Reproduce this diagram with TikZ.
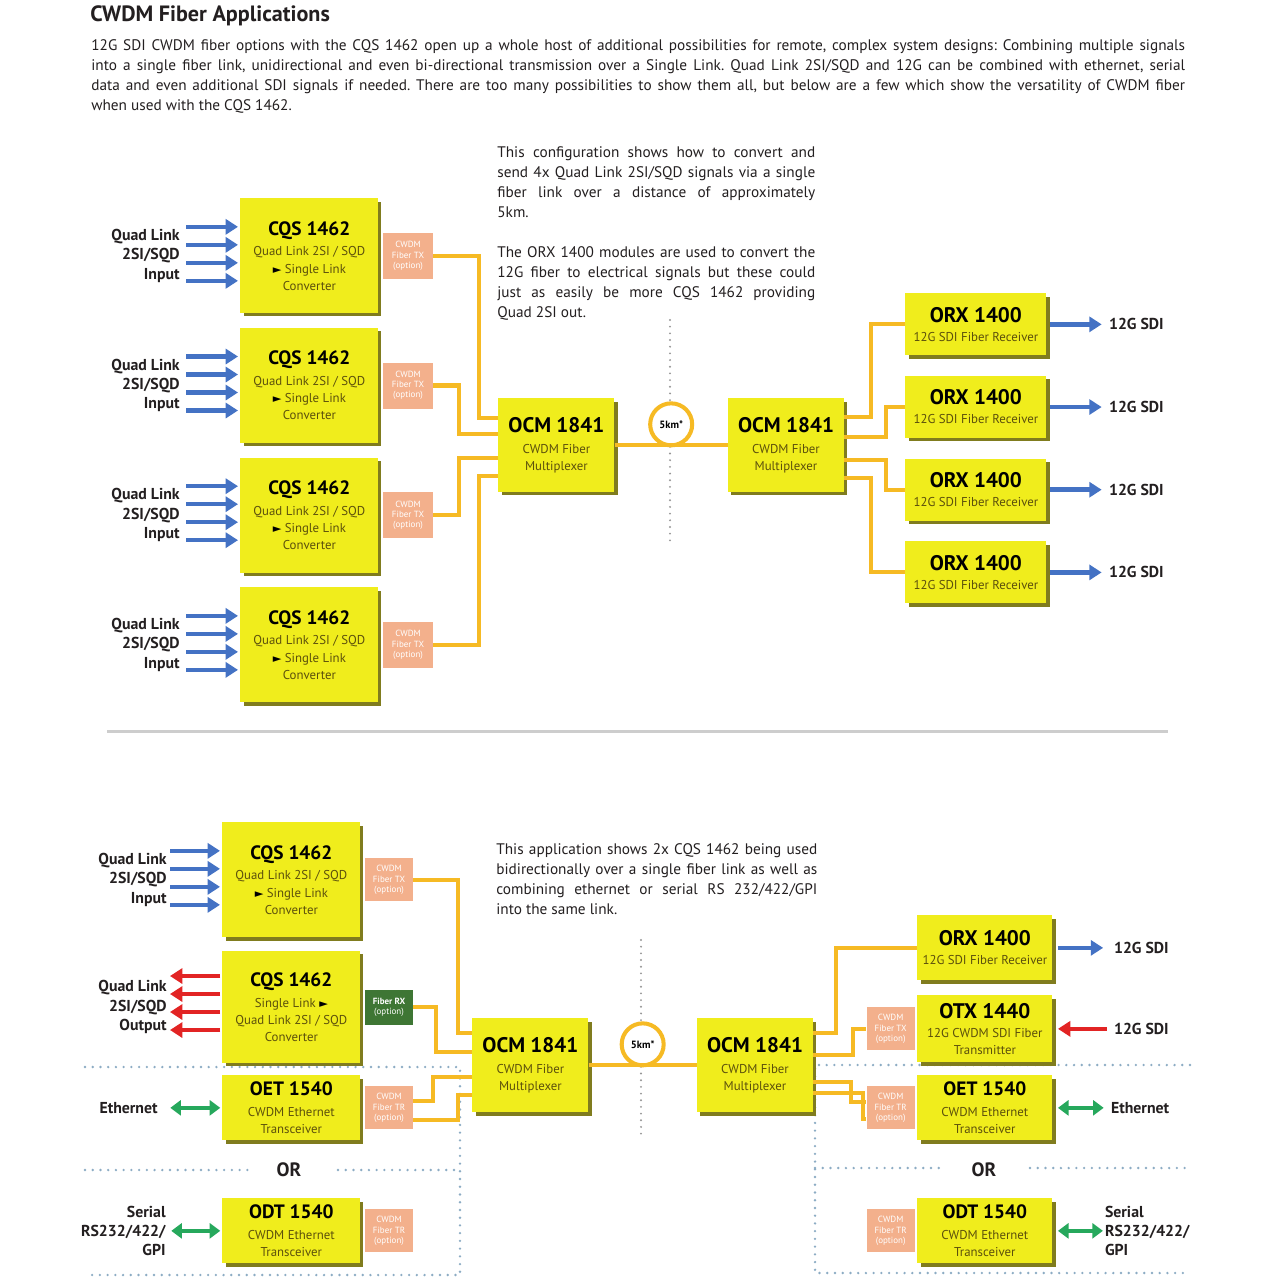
\documentclass[tikz,border=0pt]{standalone}
\usepackage{fontspec}
\setmainfont{PT Sans}
\newfontfamily\cwsymfont{DejaVu Sans}
\usepackage{xcolor}
\usetikzlibrary{arrows.meta,calc,positioning,shadows}
\frenchspacing
\definecolor{cwink}{RGB}{35,31,32}
\definecolor{cwyellow}{RGB}{240,237,28}
\definecolor{cwshade}{RGB}{128,124,30}
\definecolor{cwolive}{RGB}{92,80,12}
\definecolor{cwsalmon}{RGB}{243,176,140}
\definecolor{cwrxgreen}{RGB}{62,118,52}
\definecolor{cwfiber}{RGB}{246,186,36}
\definecolor{cwblue}{RGB}{68,114,196}
\definecolor{cwred}{RGB}{226,36,36}
\definecolor{cwgreen}{RGB}{38,168,92}
\definecolor{cwgrid}{RGB}{140,172,196}
\definecolor{cwgrey}{RGB}{150,150,150}
\definecolor{cwrule}{RGB}{205,205,205}
\newcommand{\cwbody}{\fontsize{8.7}{11.4}\selectfont}
\newcommand{\cwtitlefont}{\fontsize{12.6}{14}\selectfont\bfseries}
\newcommand{\cwsubfont}{\fontsize{7.3}{9.8}\selectfont}
\newcommand{\cwtinyfont}{\fontsize{5.1}{5.8}\selectfont}
\newcommand{\cwlblfont}{\fontsize{9}{11}\selectfont\bfseries}
\newcommand{\cwname}[2][11]{{\color{black}\fontsize{#1}{#1}\selectfont\bfseries #2}}
\newcommand{\cwplay}{{\cwsymfont\fontsize{6.4}{6.4}\selectfont\color{black}►}}
\tikzset{
  cwtext/.style={inner sep=0pt, text=cwink},
  cwunit/.style={fill=cwyellow, general shadow={fill=cwshade, shadow xshift=1.8pt, shadow yshift=-1.8pt}, align=center, text=cwolive, font=\cwsubfont, inner sep=2pt},
  cwcqs/.style={cwunit, minimum width=2.76cm, minimum height=2.3cm},
  cwmux/.style={cwunit, minimum width=2.32cm, minimum height=1.88cm},
  cwrecv/.style={cwunit, minimum width=2.82cm, minimum height=1.24cm},
  cwport/.style={cwunit, minimum width=2.76cm, minimum height=1.3cm},
  cwportr/.style={cwunit, minimum width=2.7cm, minimum height=1.3cm},
  cwtx/.style={fill=cwsalmon, text=white, align=center, font=\cwtinyfont, inner sep=1pt, minimum width=1.0cm, minimum height=.92cm},
  cwtxs/.style={cwtx, minimum width=.96cm, minimum height=.86cm},
  cwrx/.style={cwtx, fill=cwrxgreen, minimum width=.96cm, minimum height=.7cm},
  cwlbl/.style={cwtext, font=\cwlblfont},
  cwloop/.style={circle, draw=cwfiber, line width=2.3pt, fill=white, minimum size=.84cm, inner sep=0pt, font=\fontsize{6}{6}\selectfont\bfseries},
  cwfib/.style={draw=cwfiber, line width=2.3pt},
  cwin/.style={-{Triangle[length=7pt,width=8.5pt]}, line width=2.6pt, draw=cwblue},
  cwout/.style={cwin, draw=cwred},
  cwbi/.style={{Triangle[length=6pt,width=8.5pt]}-{Triangle[length=6pt,width=8.5pt]}, line width=2.6pt, draw=cwgreen},
  cwdots/.style={draw=cwgrid, line width=1.5pt, line cap=round, dash pattern=on 0pt off 4.4pt},
  cwmid/.style={cwdots, draw=cwgrey, line width=1.2pt, dash pattern=on 0pt off 3.8pt}
}

\begin{document}
\begin{tikzpicture}[x=0.02cm, y=-0.02cm, font=\cwbody, node distance=.28cm and .08cm]
  \fill[white] (0,0) rectangle (1280,1280);
  \node[cwtext, anchor=west, font=\cwtitlefont] (title) at (90,16) {CWDM Fiber Applications};
  \node[cwtext, anchor=north west, text width=21.88cm, align=justify] (intro) at (91,39) {12G SDI CWDM fiber options with the CQS 1462 open up a whole host of additional possibilities for remote, complex system designs: Combining multiple signals\linebreak into a single fiber link, unidirectional and even bi-directional transmission over a Single Link. Quad Link 2SI/SQD and 12G can be combined with ethernet, serial\linebreak data and even additional SDI signals if needed. There are too many possibilities to show them all, but below are a few which show the versatility of CWDM fiber\linebreak when used with the CQS 1462.};

  \node[cwtext, anchor=north west, text width=6.36cm, align=justify] (noteA) at (497,146) {This configuration shows how to convert and\linebreak send 4x Quad Link 2SI/SQD signals via a single\linebreak fiber link over a distance of approximately\linebreak 5km.};
  \node[cwtext, anchor=north west, text width=6.36cm, align=justify] (noteB) at (497,246) {The ORX 1400 modules are used to convert the\linebreak 12G fiber to electrical signals but these could\linebreak just as easily be more CQS 1462 providing\linebreak Quad 2SI out.};

  \node[cwcqs, anchor=north west] (cqsA) at (240,198) {\cwname{CQS 1462}\\[2pt]Quad Link 2SI / SQD\\\cwplay\ Single Link\\Converter};
  \node[cwcqs, below=of cqsA] (cqsB) {\cwname{CQS 1462}\\[2pt]Quad Link 2SI / SQD\\\cwplay\ Single Link\\Converter};
  \node[cwcqs, below=of cqsB] (cqsC) {\cwname{CQS 1462}\\[2pt]Quad Link 2SI / SQD\\\cwplay\ Single Link\\Converter};
  \node[cwcqs, below=of cqsC] (cqsD) {\cwname{CQS 1462}\\[2pt]Quad Link 2SI / SQD\\\cwplay\ Single Link\\Converter};
  \node[cwtx, right=of cqsA] (txA) {CWDM\\Fiber TX\\(option)};
  \node[cwtx, right=of cqsB] (txB) {CWDM\\Fiber TX\\(option)};
  \node[cwtx, right=of cqsC] (txC) {CWDM\\Fiber TX\\(option)};
  \node[cwtx, right=of cqsD] (txD) {CWDM\\Fiber TX\\(option)};
  \node[cwlbl, align=right, left=1.2cm of cqsA] (inA) {Quad Link\\2SI/SQD\\Input};
  \node[cwlbl, align=right, left=1.2cm of cqsB] (inB) {Quad Link\\2SI/SQD\\Input};
  \node[cwlbl, align=right, left=1.2cm of cqsC] (inC) {Quad Link\\2SI/SQD\\Input};
  \node[cwlbl, align=right, left=1.2cm of cqsD] (inD) {Quad Link\\2SI/SQD\\Input};
  \foreach \u in {cqsA,cqsB,cqsC,cqsD}
    \foreach \dy in {-29,-11,7,25}
      \draw[cwin] ($(\u.west)+(-54,\dy)$) -- ++(52,0);

  \draw[cwmid] (670,320) -- (670,545);
  \node[cwmux, anchor=north west] (ocmL) at (498,398) {\cwname[12]{OCM 1841}\\[2pt]CWDM Fiber\\Multiplexer};
  \node[cwmux, right=2.26cm of ocmL] (ocmR) {\cwname[12]{OCM 1841}\\[2pt]CWDM Fiber\\Multiplexer};
  \node[cwloop] (loopA) at ($(ocmL.east)!.5!(ocmR.west)+(0,-21)$) {5km*};
  \draw[cwfib] (ocmL.east) -- (ocmR.west);
  \draw[cwfib] (txA.east) -- ++(46,0) |- ($(ocmL.west)+(0,-27)$);
  \draw[cwfib] (txB.east) -- ++(26,0) |- ($(ocmL.west)+(0,-11)$);
  \draw[cwfib] (txC.east) -- ++(26,0) |- ($(ocmL.west)+(0,13)$);
  \draw[cwfib] (txD.east) -- ++(46,0) |- ($(ocmL.west)+(0,31)$);

  \node[cwrecv, anchor=north west] (orxA) at (905,293) {\cwname[12]{ORX 1400}\\[1pt]12G SDI Fiber Receiver};
  \node[cwrecv, below=.4cm of orxA] (orxB) {\cwname[12]{ORX 1400}\\[1pt]12G SDI Fiber Receiver};
  \node[cwrecv, below=.4cm of orxB] (orxC) {\cwname[12]{ORX 1400}\\[1pt]12G SDI Fiber Receiver};
  \node[cwrecv, below=.4cm of orxC] (orxD) {\cwname[12]{ORX 1400}\\[1pt]12G SDI Fiber Receiver};
  \draw[cwfib] ($(ocmR.east)+(0,-28)$) -- ++(27,0) |- (orxA.west);
  \draw[cwfib] ($(ocmR.east)+(0,-8)$) -- ++(42,0) |- (orxB.west);
  \draw[cwfib] ($(ocmR.east)+(0,15)$) -- ++(42,0) |- (orxC.west);
  \draw[cwfib] ($(ocmR.east)+(0,33)$) -- ++(27,0) |- (orxD.west);
  \node[cwlbl, right=1.24cm of orxA] (sdiA) {12G SDI};
  \node[cwlbl, right=1.24cm of orxB] (sdiB) {12G SDI};
  \node[cwlbl, right=1.24cm of orxC] (sdiC) {12G SDI};
  \node[cwlbl, right=1.24cm of orxD] (sdiD) {12G SDI};
  \draw[cwin, shorten <=2pt, shorten >=4pt] (orxA.east) -- (sdiA.west);
  \draw[cwin, shorten <=2pt, shorten >=4pt] (orxB.east) -- (sdiB.west);
  \draw[cwin, shorten <=2pt, shorten >=4pt] (orxC.east) -- (sdiC.west);
  \draw[cwin, shorten <=2pt, shorten >=4pt] (orxD.east) -- (sdiD.west);

  \draw[cwrule, line width=1.7pt] (107,731) -- (1168,731);

  \node[cwtext, anchor=north west, text width=6.42cm, align=justify] (noteC) at (496,843) {This application shows 2x CQS 1462 being used\linebreak bidirectionally over a single fiber link as well as\linebreak combining ethernet or serial RS 232/422/GPI\linebreak into the same link.};

  \draw[cwdots] (85,1067) -- (460,1067) -- (460,1275) -- (85,1275);
  \draw[cwdots] (85,1170) -- (255,1170);
  \draw[cwdots] (338,1170) -- (460,1170);
  \draw[cwdots] (1190,1065) -- (815,1065) -- (815,1273) -- (1190,1273);
  \draw[cwdots] (815,1168) -- (940,1168);
  \draw[cwdots] (1030,1168) -- (1190,1168);
  \node[cwtext, font=\fontsize{11}{11}\selectfont\bfseries] (orL) at (289,1170) {OR};
  \node[cwtext, font=\fontsize{11}{11}\selectfont\bfseries] (orR) at (984,1170) {OR};

  \node[cwcqs, anchor=north west] (cqsE) at (222,822) {\cwname{CQS 1462}\\[2pt]Quad Link 2SI / SQD\\\cwplay\ Single Link\\Converter};
  \node[cwcqs, below=.26cm of cqsE, minimum height=2.24cm] (cqsF) {\cwname{CQS 1462}\\[2pt]Single Link \cwplay\\Quad Link 2SI / SQD\\Converter};
  \node[cwtxs, right=of cqsE] (txE) {CWDM\\Fiber TX\\(option)};
  \node[cwrx, right=of cqsF] (rxF) {\bfseries Fiber RX\\(option)};
  \node[cwlbl, align=right, left=1.1cm of cqsE] (inE) {Quad Link\\2SI/SQD\\Input};
  \node[cwlbl, align=right, left=1.1cm of cqsF] (outF) {Quad Link\\2SI/SQD\\Output};
  \foreach \dy in {-29,-11,7,25}
    \draw[cwin] ($(cqsE.west)+(-52,\dy)$) -- ++(50,0);
  \foreach \dy in {-31,-13,5,23}
    \draw[cwout] ($(cqsF.west)+(-2,\dy)$) -- ++(-50,0);

  \node[cwport, anchor=north west] (oetL) at (222,1075) {\cwname{OET 1540}\\[2pt]CWDM Ethernet\\Transceiver};
  \node[cwtxs, right=of oetL] (txG) {CWDM\\Fiber TR\\(option)};
  \node[cwlbl, left=1.28cm of oetL] (ethL) {Ethernet};
  \draw[cwbi, shorten <=7pt, shorten >=1pt] (ethL.east) -- (oetL.west);
  \node[cwport, anchor=north west] (odtL) at (222,1198) {\cwname{ODT 1540}\\[2pt]CWDM Ethernet\\Transceiver};
  \node[cwtxs, right=of odtL] (txH) {CWDM\\Fiber TR\\(option)};
  \node[cwlbl, align=right, left=1.12cm of odtL] (serL) {Serial\\RS232/422/\\GPI};
  \draw[cwbi, shorten <=3pt, shorten >=1pt] (serL.east |- odtL.west) -- (odtL.west);

  \draw[cwmid] (641,940) -- (641,1140);
  \node[cwmux, anchor=north west] (ocmBL) at (472,1018) {\cwname[12]{OCM 1841}\\[2pt]CWDM Fiber\\Multiplexer};
  \node[cwmux, right=2.16cm of ocmBL] (ocmBR) {\cwname[12]{OCM 1841}\\[2pt]CWDM Fiber\\Multiplexer};
  \node[cwloop] (loopB) at ($(ocmBL.east)!.5!(ocmBR.west)+(0,-21)$) {5km*};
  \draw[cwfib] (ocmBL.east) -- (ocmBR.west);
  \draw[cwfib] (txE.east) -- ++(45,0) |- ($(ocmBL.west)+(0,-32)$);
  \draw[cwfib] (rxF.east) -- ++(23,0) |- ($(ocmBL.west)+(0,-13)$);
  \draw[cwfib] ($(txG.east)+(0,-7)$) -- ++(20,0) |- ($(ocmBL.west)+(0,12)$);
  \draw[cwfib] ($(txG.east)+(0,12)$) -- ++(45,0) |- ($(ocmBL.west)+(0,30)$);

  \node[cwportr, anchor=north west] (orxE) at (917,915) {\cwname[12]{ORX 1400}\\[1pt]12G SDI Fiber Receiver};
  \node[cwportr, anchor=north west, minimum height=1.34cm] (otx) at (917,995) {\cwname[12]{OTX 1440}\\[1pt]12G CWDM SDI Fiber\\Transmitter};
  \node[cwtxs, left=.04cm of otx] (txO) {CWDM\\Fiber TX\\(option)};
  \node[cwportr, anchor=north west] (oetR) at (917,1075) {\cwname{OET 1540}\\[2pt]CWDM Ethernet\\Transceiver};
  \node[cwtxs, left=.04cm of oetR] (txR) {CWDM\\Fiber TR\\(option)};
  \node[cwportr, anchor=north west] (odtR) at (917,1198) {\cwname{ODT 1540}\\[2pt]CWDM Ethernet\\Transceiver};
  \node[cwtxs, left=.04cm of odtR] (txS) {CWDM\\Fiber TR\\(option)};
  \draw[cwfib] ($(ocmBR.east)+(0,-32)$) -- ++(23,0) |- (orxE.west);
  \draw[cwfib] ($(ocmBR.east)+(0,-10)$) -- ++(40,0) |- (txO.west);
  \draw[cwfib] ($(ocmBR.east)+(0,17)$) -- ++(38,0) |- ($(txR.west)+(0,-6)$);
  \draw[cwfib] ($(ocmBR.east)+(0,28)$) -- ++(50,0) |- ($(txR.west)+(0,11)$);

  \node[cwlbl, right=1.22cm of orxE] (sdiE) {12G SDI};
  \node[cwlbl, right=1.22cm of otx] (sdiF) {12G SDI};
  \node[cwlbl, right=1.16cm of oetR] (ethR) {Ethernet};
  \node[cwlbl, align=left, right=1.04cm of odtR] (serR) {Serial\\RS232/422/\\GPI};
  \draw[cwin, shorten <=3pt, shorten >=6pt] (orxE.east) -- (sdiE.west);
  \draw[cwout, shorten <=4pt, shorten >=3pt] (sdiF.west) -- (otx.east);
  \draw[cwbi, shorten <=3pt, shorten >=4pt] (oetR.east) -- (ethR.west);
  \draw[cwbi, shorten <=3pt, shorten >=1pt] (odtR.east) -- (odtR.east -| serR.west);
\end{tikzpicture}
\end{document}
